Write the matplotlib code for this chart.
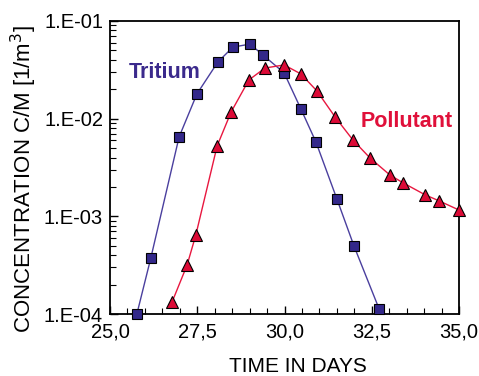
import matplotlib
matplotlib.use("Agg")
import matplotlib.pyplot as plt
from matplotlib.ticker import FixedLocator, MultipleLocator, LogLocator, NullFormatter

plt.rcParams['font.family'] = ['Liberation Sans', 'DejaVu Sans']

tritium_days = [25.77, 26.17, 26.98, 27.49, 28.09, 28.52, 29.01, 29.38, 29.99, 30.47, 30.90, 31.50, 31.99, 32.71]
tritium_conc = [1.0e-4, 3.75e-4, 6.5e-3, 0.0179, 0.038, 0.054, 0.058, 0.045, 0.0294, 0.01256, 0.00578, 0.00151, 4.98e-4, 1.13e-4]

pollutant_days = [26.78, 27.21, 27.46, 28.07, 28.47, 28.98, 29.44, 29.99, 30.47, 30.93, 31.45, 31.96, 32.45, 33.02, 33.40, 34.03, 34.43, 35.0]
pollutant_conc = [1.33e-4, 3.18e-4, 6.46e-4, 5.26e-3, 0.0117, 0.0249, 0.033, 0.0355, 0.0287, 0.0192, 0.0104, 0.00605, 0.00396, 0.00265, 0.0022, 0.00166, 0.00144, 0.00116]

x_ticks = [25.0, 27.5, 30.0, 32.5, 35.0]
x_ticklabels = ["25,0", "27,5", "30,0", "32,5", "35,0"]
y_ticks = [1e-4, 1e-3, 1e-2, 1e-1]
y_ticklabels = ["1.E-04", "1.E-03", "1.E-02", "1.E-01"]

W, H = 479, 376
fig = plt.figure(figsize=(W/100, H/100), dpi=100)
ax = fig.add_axes([110/W, 1-314/H, 349/W, 293/H])

ax.plot(tritium_days, tritium_conc, color='#4a3f9e', lw=1.0, marker='s', ms=6.5,
        mfc='#33288a', mec='black', mew=0.8, clip_on=False, zorder=3)
ax.plot(pollutant_days, pollutant_conc, color='#e8173f', lw=1.0, marker='^', ms=8.5,
        mfc='#dc0a36', mec='black', mew=0.8, clip_on=False, zorder=4)

ax.set_yscale('log')
ax.set_xlim(25, 35)
ax.set_ylim(1e-4, 1e-1)

ax.xaxis.set_major_locator(FixedLocator(x_ticks))
ax.set_xticklabels(x_ticklabels)
ax.xaxis.set_minor_locator(MultipleLocator(0.5))
ax.yaxis.set_major_locator(FixedLocator(y_ticks))
ax.set_yticklabels(y_ticklabels)
ax.yaxis.set_minor_locator(LogLocator(base=10, subs=range(2, 10)))
ax.yaxis.set_minor_formatter(NullFormatter())

ax.tick_params(which='both', direction='in', top=False, right=False, labelsize=14.5, colors='black')
ax.tick_params(which='major', length=6, width=1)
ax.tick_params(which='minor', length=4, width=0.8)
ax.tick_params(axis='x', pad=6)
ax.tick_params(axis='y', pad=5)

for s in ax.spines.values():
    s.set_linewidth(1.3)

ax.set_xlabel("TIME IN DAYS", fontsize=15)
ax.xaxis.set_label_coords((298-110)/349, -(367-314)/293)
ax.xaxis.label.set_va('center')
ax.set_ylabel("CONCENTRATION C/M [1/m$^3$]", fontsize=16)
ax.yaxis.set_label_coords(-(110-24)/349, (314-179)/293)
ax.yaxis.label.set_va('center')

ax.text(26.58, 0.0294, "Tritium", color='#3b2a8c', fontsize=15.5, fontweight='bold', ha='center', va='center')
ax.text(33.51, 0.00935, "Pollutant", color='#e0103a', fontsize=15.5, fontweight='bold', ha='center', va='center')

fig.savefig("out.png", dpi=100)
